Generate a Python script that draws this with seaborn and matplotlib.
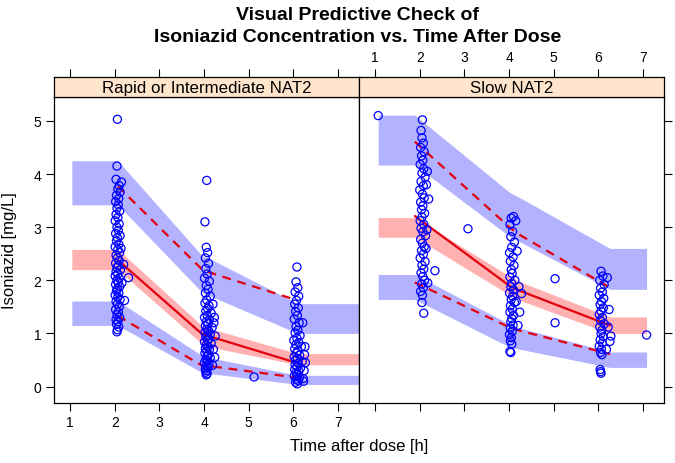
import matplotlib
matplotlib.use("Agg")
import matplotlib.pyplot as plt
import pandas as pd
import seaborn as sns

sns.set_theme(style="white")
plt.rcParams['font.family'] = ['Liberation Sans', 'DejaVu Sans']

panels = ["Rapid or Intermediate NAT2", "Slow NAT2"]
x_ticks = [1, 2, 3, 4, 5, 6, 7]
y_ticks = [0, 1, 2, 3, 4, 5]

# ---------------- observed data ----------------
rapid_time = [
    2.06, 2.05, 2.03, 2.10, 2.07, 2.12, 2.04, 2.09, 2.02, 2.08, 2.05, 2.11, 2.03, 2.07, 2.01, 2.10,
    2.05, 2.08, 2.02, 2.12, 2.06, 2.04, 2.09, 2.01, 2.07, 2.11, 2.03, 2.06, 2.10, 2.02, 2.08, 2.05,
    2.13, 2.03, 2.07, 2.01, 2.10, 2.05, 2.08, 2.02, 2.11, 2.06, 2.04, 2.09, 2.01, 2.07, 2.12, 2.03,
    2.06, 2.10, 2.02, 2.08, 2.05, 2.11, 2.03, 2.07, 2.04, 2.09, 2.06, 2.05, 2.31, 2.22, 2.20, 2.15,
    2.14, 2.16,
    4.06, 4.02, 4.05, 4.08, 4.03, 4.10, 4.04, 4.07, 4.01, 4.12, 4.05, 4.09, 4.03, 4.14, 4.06, 4.02,
    4.11, 4.08, 4.04, 4.16, 4.07, 4.01, 4.12, 4.05, 4.09, 4.03, 4.18, 4.06, 4.10, 4.02, 4.14, 4.07,
    4.04, 4.11, 4.08, 4.01, 4.16, 4.05, 4.09, 4.03, 4.12, 4.06, 4.02, 4.10, 4.07, 4.14, 4.04, 4.08,
    4.01, 4.11, 4.05, 4.09, 4.03, 4.06, 4.04, 4.07, 4.05, 4.22, 4.25, 4.21, 4.24, 4.20, 4.19, 4.23,
    5.12,
    6.08, 6.06, 6.10, 6.04, 6.12, 6.07, 6.03, 6.11, 6.05, 6.09, 6.02, 6.13, 6.06, 6.10, 6.04, 6.15,
    6.08, 6.01, 6.12, 6.06, 6.18, 6.03, 6.10, 6.07, 6.14, 6.02, 6.09, 6.05, 6.20, 6.11, 6.04, 6.08,
    6.16, 6.03, 6.12, 6.06, 6.10, 6.02, 6.14, 6.07, 6.11, 6.05, 6.09, 6.25, 6.27, 6.24, 6.22, 6.26,
    6.21, 6.23,
]
rapid_conc = [
    5.03, 4.15, 3.90, 3.78, 3.72, 3.66, 3.60, 3.54, 3.48, 3.42, 3.36, 3.30, 3.24, 3.18, 3.12, 3.06,
    3.00, 2.94, 2.88, 2.84, 2.80, 2.74, 2.68, 2.63, 2.58, 2.52, 2.47, 2.42, 2.37, 2.32, 2.28, 2.24,
    2.20, 2.16, 2.12, 2.08, 2.04, 2.00, 1.96, 1.92, 1.88, 1.84, 1.80, 1.76, 1.72, 1.68, 1.64, 1.60,
    1.55, 1.50, 1.45, 1.40, 1.35, 1.30, 1.26, 1.22, 1.17, 1.12, 1.07, 1.03, 2.05, 1.62, 2.30, 3.85,
    2.60, 1.95,
    3.88, 3.10, 2.62, 2.52, 2.42, 2.32, 2.22, 2.12, 2.04, 1.98, 1.90, 1.83, 1.76, 1.70, 1.63, 1.57,
    1.52, 1.47, 1.42, 1.38, 1.34, 1.30, 1.26, 1.22, 1.18, 1.14, 1.11, 1.08, 1.05, 1.02, 0.99, 0.96,
    0.93, 0.90, 0.87, 0.84, 0.81, 0.78, 0.75, 0.72, 0.69, 0.66, 0.63, 0.60, 0.57, 0.54, 0.51, 0.48,
    0.45, 0.42, 0.39, 0.36, 0.33, 0.30, 0.27, 0.24, 0.22, 1.20, 0.95, 0.70, 0.55, 1.55, 0.40, 1.30,
    0.18,
    2.25, 1.97, 1.86, 1.78, 1.70, 1.62, 1.55, 1.48, 1.41, 1.34, 1.27, 1.20, 1.13, 1.06, 1.01, 0.96,
    0.91, 0.87, 0.83, 0.79, 0.75, 0.71, 0.67, 0.63, 0.59, 0.56, 0.53, 0.50, 0.47, 0.44, 0.41, 0.38,
    0.35, 0.32, 0.29, 0.26, 0.23, 0.20, 0.17, 0.14, 0.11, 0.08, 0.05, 0.60, 0.45, 0.30, 0.15, 0.75,
    1.20, 0.10,
]

slow_time = [
    1.07,
    2.06, 2.03, 2.05, 2.08, 2.02, 2.10, 2.04, 2.07, 2.01, 2.09, 2.05, 2.12, 2.03, 2.08, 2.00, 2.06,
    2.10, 2.02, 2.07, 2.04, 2.11, 2.05, 2.01, 2.09, 2.03, 2.07, 2.13, 2.02, 2.06, 2.10, 2.04, 2.08,
    2.01, 2.12, 2.05, 2.09, 2.03, 2.07, 2.11, 2.04, 2.08, 2.02, 2.06, 2.05, 2.09, 2.20, 2.34, 2.16,
    2.14, 2.18, 2.15, 2.17,
    3.08,
    4.10, 4.05, 4.15, 4.02, 4.08, 4.04, 4.12, 4.06, 4.01, 4.09, 4.03, 4.11, 4.05, 4.07, 4.02, 4.13,
    4.06, 4.04, 4.10, 4.01, 4.08, 4.05, 4.12, 4.03, 4.07, 4.02, 4.10, 4.06, 4.04, 4.09, 4.03, 4.07,
    4.01, 4.05, 4.03, 4.06, 4.02, 4.04, 4.22, 4.28, 4.24, 4.18, 4.20, 4.16,
    5.03, 5.03,
    6.06, 6.10, 6.03, 6.13, 6.05, 6.09, 6.02, 6.12, 6.07, 6.04, 6.11, 6.06, 6.02, 6.09, 6.05, 6.13,
    6.03, 6.08, 6.06, 6.11, 6.04, 6.09, 6.02, 6.07, 6.05, 6.08, 6.04, 6.05, 6.06, 6.24, 6.26, 6.22,
    6.20, 6.28, 6.18,
    7.08,
]
slow_conc = [
    5.10,
    5.02, 4.82, 4.68, 4.58, 4.50, 4.42, 4.34, 4.26, 4.18, 4.10, 4.02, 3.94, 3.86, 3.78, 3.70, 3.62,
    3.55, 3.47, 3.40, 3.33, 3.26, 3.19, 3.12, 3.05, 2.98, 2.91, 2.84, 2.77, 2.70, 2.63, 2.56, 2.49,
    2.42, 2.35, 2.28, 2.21, 2.14, 2.07, 2.00, 1.93, 1.86, 1.79, 1.72, 1.58, 1.38, 3.53, 2.18, 2.95,
    2.60, 1.95, 3.80, 4.05,
    2.97,
    3.20, 3.17, 3.12, 3.05, 2.92, 2.82, 2.72, 2.62, 2.52, 2.44, 2.36, 2.28, 2.20, 2.13, 2.06, 2.00,
    1.94, 1.88, 1.82, 1.76, 1.70, 1.64, 1.58, 1.52, 1.46, 1.40, 1.34, 1.28, 1.22, 1.16, 1.10, 1.04,
    0.98, 0.92, 0.86, 0.80, 0.66, 0.64, 1.88, 1.75, 1.40, 2.55, 1.15, 1.60,
    2.03, 1.20,
    2.17, 2.08, 2.00, 1.92, 1.85, 1.78, 1.72, 1.66, 1.60, 1.54, 1.48, 1.42, 1.36, 1.30, 1.24, 1.18,
    1.12, 1.06, 1.00, 0.94, 0.88, 0.82, 0.76, 0.70, 0.64, 0.60, 0.32, 0.28, 0.25, 1.45, 0.85, 1.12,
    2.05, 0.95, 0.70,
    0.97,
]

# ---------------- observed percentiles (lines) ----------------
rapid_bin_time = [2.07, 3.96, 4.26, 6.06]
rapid_p50 = [2.38, 0.985, 0.91, 0.45]
rapid_p05 = [1.33, 0.39, 0.37, 0.17]
rapid_p95 = [3.77, 2.20, 2.11, 1.63]

slow_bin_time = [1.89, 4.02, 4.25, 6.26]
slow_p50 = [3.21, 1.89, 1.80, 1.15]
slow_p05 = [1.96, 1.11, 1.05, 0.61]
slow_p95 = [4.61, 2.99, 2.85, 1.86]

# ---------------- simulated confidence bands ----------------
rapid_band_time = [1.04, 2.07, 3.96, 4.26, 6.10, 7.60]
rapid_p95_lo = [3.42, 3.42, 1.77, 1.66, 1.00, 1.00]
rapid_p95_hi = [4.25, 4.25, 2.46, 2.35, 1.56, 1.56]
rapid_p50_lo = [2.20, 2.20, 0.80, 0.72, 0.41, 0.41]
rapid_p50_hi = [2.58, 2.58, 1.14, 1.06, 0.62, 0.62]
rapid_p05_lo = [1.15, 1.15, 0.26, 0.23, 0.04, 0.04]
rapid_p05_hi = [1.61, 1.61, 0.58, 0.52, 0.21, 0.21]

slow_band_time = [1.07, 1.89, 4.02, 4.25, 6.26, 7.08]
slow_p95_lo = [4.17, 4.17, 2.82, 2.72, 1.83, 1.83]
slow_p95_hi = [5.11, 5.11, 3.65, 3.55, 2.60, 2.60]
slow_p50_lo = [2.81, 2.81, 1.72, 1.62, 1.00, 1.00]
slow_p50_hi = [3.18, 3.18, 2.07, 1.97, 1.31, 1.31]
slow_p05_lo = [1.64, 1.64, 0.74, 0.70, 0.36, 0.36]
slow_p05_hi = [2.11, 2.11, 1.17, 1.10, 0.65, 0.65]

obs = {
    panels[0]: pd.DataFrame({"time": rapid_time, "conc": rapid_conc}),
    panels[1]: pd.DataFrame({"time": slow_time, "conc": slow_conc}),
}
lines = {
    panels[0]: pd.DataFrame({"time": rapid_bin_time, "p05": rapid_p05, "p50": rapid_p50, "p95": rapid_p95}),
    panels[1]: pd.DataFrame({"time": slow_bin_time, "p05": slow_p05, "p50": slow_p50, "p95": slow_p95}),
}
bands = {
    panels[0]: pd.DataFrame({"time": rapid_band_time,
                             "p95_lo": rapid_p95_lo, "p95_hi": rapid_p95_hi,
                             "p50_lo": rapid_p50_lo, "p50_hi": rapid_p50_hi,
                             "p05_lo": rapid_p05_lo, "p05_hi": rapid_p05_hi}),
    panels[1]: pd.DataFrame({"time": slow_band_time,
                             "p95_lo": slow_p95_lo, "p95_hi": slow_p95_hi,
                             "p50_lo": slow_p50_lo, "p50_hi": slow_p50_hi,
                             "p05_lo": slow_p05_lo, "p05_hi": slow_p05_hi}),
}

BLUE_BAND = "#B2B2FF"
RED_BAND = "#FFB0B0"
LINE_RED = "#E3000F"
PT_BLUE = "#0000FF"
STRIP = "#FFE5CC"

W, H = 675, 464
fig = plt.figure(figsize=(W / 100, H / 100), dpi=100)

def fx(px):
    return px / W

def fy(py):
    return 1 - py / H

panel_left = [54, 359]
panel_w = 305
panel_top, panel_bot = 98, 404
strip_top = 78

XLIM = (0.64, 7.47)
YLIM = (-0.31, 5.45)

for i, name in enumerate(panels):
    ax = fig.add_axes([fx(panel_left[i]), fy(panel_bot), panel_w / W, (panel_bot - panel_top) / H])
    sax = fig.add_axes([fx(panel_left[i]), fy(panel_top), panel_w / W, (panel_top - strip_top) / H])

    b = bands[name]
    ax.fill_between(b["time"], b["p95_lo"], b["p95_hi"], color=BLUE_BAND, lw=0, zorder=1)
    ax.fill_between(b["time"], b["p05_lo"], b["p05_hi"], color=BLUE_BAND, lw=0, zorder=1)
    ax.fill_between(b["time"], b["p50_lo"], b["p50_hi"], color=RED_BAND, lw=0, zorder=1)

    l = lines[name]
    sns.lineplot(data=l, x="time", y="p50", ax=ax, color=LINE_RED, lw=1.6,
                 estimator=None, sort=False, zorder=3)
    for col in ["p05", "p95"]:
        sns.lineplot(data=l, x="time", y=col, ax=ax, color=LINE_RED, lw=1.6,
                     linestyle=(0, (4, 3)), estimator=None, sort=False, zorder=3)

    sns.scatterplot(data=obs[name], x="time", y="conc", ax=ax, marker="o", s=34,
                    facecolor="none", edgecolor=PT_BLUE, linewidth=0.9, zorder=4, legend=False)

    ax.set_xlim(*XLIM)
    ax.set_ylim(*YLIM)
    ax.set_xlabel("")
    ax.set_ylabel("")
    ax.set_facecolor("white")
    for sp in ax.spines.values():
        sp.set_color("black")
        sp.set_linewidth(0.9)
    ax.set_xticks(x_ticks)
    ax.set_yticks(y_ticks)
    ax.tick_params(direction="out", length=6, width=0.8, color="black",
                   labelsize=10, labelcolor="black", pad=3)
    if i == 0:
        ax.tick_params(axis="x", bottom=True, labelbottom=True)
        ax.tick_params(axis="y", left=True, labelleft=True, right=False)
    else:
        ax.tick_params(axis="x", bottom=True, labelbottom=False)
        ax.tick_params(axis="y", left=False, labelleft=False, right=True, labelright=False)

    # strip
    sax.set_xlim(*XLIM)
    sax.set_ylim(0, 1)
    sax.set_facecolor(STRIP)
    for sp in sax.spines.values():
        sp.set_color("black")
        sp.set_linewidth(0.9)
    sax.set_yticks([])
    sax.set_xticks(x_ticks)
    sax.xaxis.tick_top()
    sax.tick_params(axis="x", direction="out", length=6, width=0.8, color="black",
                    labelsize=10, labelcolor="black", pad=3,
                    top=True, bottom=False, labeltop=(i == 1), labelbottom=False)
    sax.text(0.5, 0.47, name, transform=sax.transAxes, ha="center", va="center",
             fontsize=12.2, color="black")

fig.text(fx(10), fy((panel_top + panel_bot) / 2), "Isoniazid [mg/L]", rotation=90,
         ha="center", va="center", fontsize=12, color="black")
fig.text(fx(359), fy(447), "Time after dose [h]", ha="center", va="center",
         fontsize=12, color="black")
fig.text(fx(358), fy(16), "Visual Predictive Check of", ha="center", va="center",
         fontsize=14, fontweight="bold", color="black")
fig.text(fx(358), fy(37), "Isoniazid Concentration vs. Time After Dose", ha="center",
         va="center", fontsize=14, fontweight="bold", color="black")

fig.savefig("out.png", dpi=100, facecolor="white")
